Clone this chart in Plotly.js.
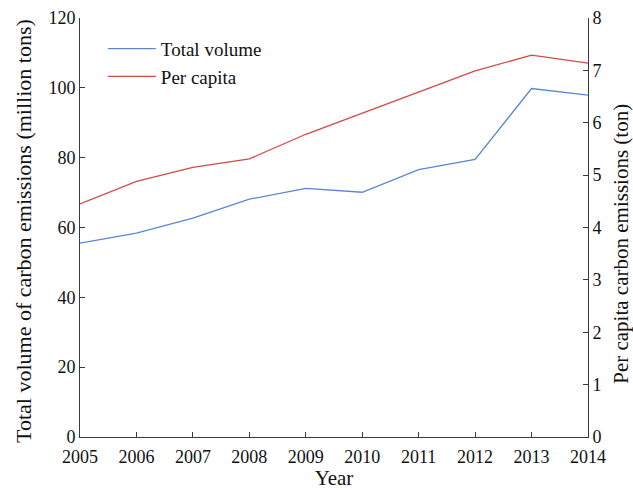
<!DOCTYPE html>
<html>
<head>
<meta charset="utf-8">
<script src="https://cdn.plot.ly/plotly-3.0.1.min.js"></script>
<style>
  html, body { margin: 0; padding: 0; background: #fff; }
  #chart { width: 633px; height: 490px; }
</style>
</head>
<body>
<div id="chart"></div>
<script>
// Carbon emissions, 2005-2014
const years = [2005, 2006, 2007, 2008, 2009, 2010, 2011, 2012, 2013, 2014];
// Total volume of carbon emissions (million tons)
const totalVolume = [55.5, 58.4, 62.7, 68.1, 71.2, 70.1, 76.6, 79.5, 99.8, 97.9];
// Per capita carbon emissions (ton)
const perCapita = [4.45, 4.88, 5.15, 5.31, 5.78, 6.18, 6.59, 6.99, 7.29, 7.14];
const xTickLabels = years.map(String);

const serif = "Liberation Serif, Times New Roman, serif";
const axisColor = "#3a3a3a";
const textColor = "#111";

const traces = [
  {
    x: years, y: totalVolume, name: "Total volume",
    type: "scatter", mode: "lines",
    line: { color: "#5b87d2", width: 1.3 },
    yaxis: "y"
  },
  {
    x: years, y: perCapita, name: "Per capita",
    type: "scatter", mode: "lines",
    line: { color: "#d14b48", width: 1.3 },
    yaxis: "y2"
  }
];

const layout = {
  width: 633, height: 490,
  margin: { l: 80, r: 45, t: 18, b: 53 },
  paper_bgcolor: "#fff", plot_bgcolor: "#fff",
  font: { family: serif, size: 18, color: textColor },
  showlegend: true,
  legend: {
    x: 0.045, y: 0.972, xanchor: "left", yanchor: "top",
    bgcolor: "rgba(0,0,0,0)", borderwidth: 0,
    font: { family: serif, size: 19, color: textColor },
    itemwidth: 48
  },
  xaxis: {
    range: [2005, 2014],
    tickvals: years, ticktext: xTickLabels,
    ticks: "inside", ticklen: 5, tickcolor: axisColor,
    ticklabelstandoff: 3,
    showline: true, linecolor: axisColor, linewidth: 1,
    showgrid: false, zeroline: false,
    tickfont: { family: serif, size: 18, color: textColor },
    title: { text: "Year", font: { family: serif, size: 21, color: textColor }, standoff: 9 },
    automargin: false
  },
  yaxis: {
    range: [0, 120], dtick: 20,
    ticks: "inside", ticklen: 5, tickcolor: axisColor,
    showline: true, linecolor: axisColor, linewidth: 1,
    showgrid: false, zeroline: false,
    tickfont: { family: serif, size: 18, color: textColor },
    automargin: false
  },
  yaxis2: {
    range: [0, 8], dtick: 1,
    overlaying: "y", side: "right",
    ticks: "inside", ticklen: 5, tickcolor: axisColor,
    showline: true, linecolor: axisColor, linewidth: 1,
    showgrid: false, zeroline: false,
    tickfont: { family: serif, size: 18, color: textColor },
    automargin: false
  },
  annotations: [
    {
      // left-hand axis title
      text: "Total volume of carbon emissions (million tons)",
      xref: "paper", yref: "paper",
      x: -0.11, y: 0.492, xanchor: "center", yanchor: "middle",
      textangle: -90, showarrow: false,
      font: { family: serif, size: 22, color: textColor }
    },
    {
      // right-hand axis title, set a little below the plot's mid-height
      text: "Per capita carbon emissions (ton)",
      xref: "paper", yref: "paper",
      x: 1.066, y: 0.46, xanchor: "center", yanchor: "middle",
      textangle: -90, showarrow: false,
      font: { family: serif, size: 21, color: textColor }
    }
  ]
};

Plotly.newPlot("chart", traces, layout, { displayModeBar: false, staticPlot: true });
</script>
</body>
</html>
